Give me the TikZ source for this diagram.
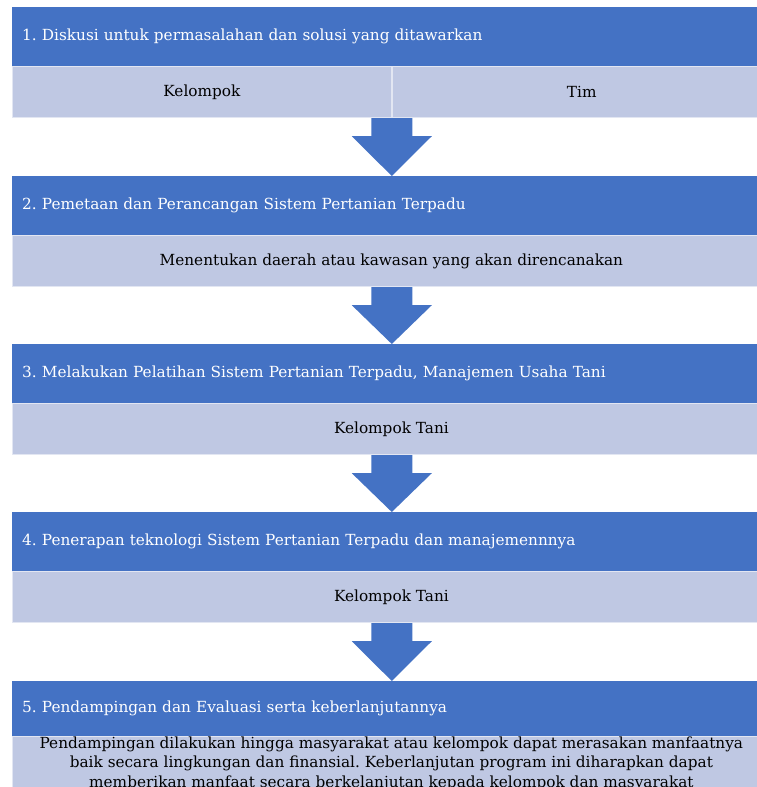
\documentclass[tikz,border=0pt]{standalone}
\usepackage{fontspec}
\setmainfont{DejaVu Serif}
\usetikzlibrary{calc}
\definecolor{hdblue}{HTML}{4472C4}
\definecolor{rowblue}{HTML}{BFC8E3}
\frenchspacing

\tikzset{
  stage/.style={fill=hdblue, text=white, anchor=north west, minimum height=59pt,
    text width=738pt, inner xsep=10pt, inner ysep=0pt, align=left,
    font=\fontsize{15.3}{19.5}\selectfont},
  detail/.style={fill=rowblue, draw=white!55!rowblue, line width=0.8pt, anchor=north west,
    minimum height=51pt, inner sep=0pt, align=center, font=\fontsize{15.3}{19.5}\selectfont},
}
% block arrow between two rows: #1 = top point, #2 = tip
\newcommand{\stagearrow}[2]{%
  \fill[hdblue] ($(#1)+(-20.5,0)$) -- ($(#1)+(20.5,0)$) -- ($(#1)+(20.5,18)$)
    -- ($(#1)+(40,18)$) -- (#2) -- ($(#1)+(-40,18)$) -- ($(#1)+(-20.5,18)$) -- cycle;}

\begin{document}
\begin{tikzpicture}[x=1pt,y=-1pt]
   \clip (0,0) rectangle (757,787);
   \fill[white] (0,0) rectangle (757,787);

   % stage 1
   \node[stage] (h1) at (12,7) {1. Diskusi untuk permasalahan dan solusi yang ditawarkan};
   \node[detail, minimum width=379pt] (k1) at (h1.south west) {Kelompok};
   \node[detail, minimum width=379pt] (t1) at (k1.north east) {Tim};

   % stage 2
   \node[stage] (h2) at (12,176) {2. Pemetaan dan Perancangan Sistem Pertanian Terpadu};
   \node[detail, minimum width=758pt] (d2) at (h2.south west) {Menentukan daerah atau kawasan yang akan direncanakan};

   % stage 3
   \node[stage] (h3) at (12,344) {3. Melakukan Pelatihan Sistem Pertanian Terpadu, Manajemen Usaha Tani};
   \node[detail, minimum width=758pt] (d3) at (h3.south west) {Kelompok Tani};

   % stage 4
   \node[stage] (h4) at (12,512) {4. Penerapan teknologi Sistem Pertanian Terpadu dan manajemennnya};
   \node[detail, minimum width=758pt] (d4) at (h4.south west) {Kelompok Tani};

   % stage 5
   \node[stage, minimum height=55pt] (h5) at (12,681) {5. Pendampingan dan Evaluasi serta keberlanjutannya};
   \node[detail, minimum width=758pt, minimum height=0pt, anchor=north west, inner ysep=0pt]
     (d5) at (h5.south west) {Pendampingan dilakukan hingga masyarakat atau kelompok dapat merasakan manfaatnya\\
     baik secara lingkungan dan finansial. Keberlanjutan program ini diharapkan dapat\\
     memberikan manfaat secara berkelanjutan kepada kelompok dan masyarakat};

   % arrows
   \coordinate (a1) at (k1.south east);
   \coordinate (b1) at (k1.south east |- h2.north);
   \coordinate (a2) at (k1.south east |- d2.south);
   \coordinate (b2) at (k1.south east |- h3.north);
   \coordinate (a3) at (k1.south east |- d3.south);
   \coordinate (b3) at (k1.south east |- h4.north);
   \coordinate (a4) at (k1.south east |- d4.south);
   \coordinate (b4) at (k1.south east |- h5.north);
   \stagearrow{a1}{b1}
   \stagearrow{a2}{b2}
   \stagearrow{a3}{b3}
   \stagearrow{a4}{b4}
\end{tikzpicture}
\end{document}
